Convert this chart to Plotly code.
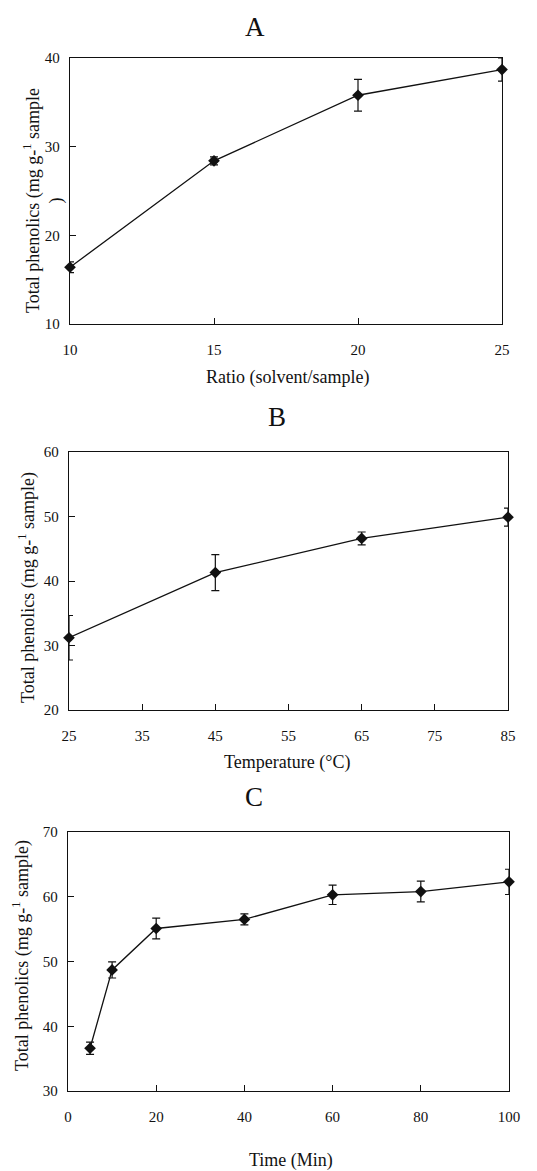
import plotly.graph_objects as go

W, H = 537, 1171
OFF = 8  # page body margin in the browser

# Panel A
ratio = [10, 15, 20, 25]
phen_a = [16.4, 28.4, 35.8, 38.7]
err_a = [0.6, 0.45, 1.8, 1.3]

# Panel B
temp = [25, 45, 65, 85]
phen_b = [31.2, 41.3, 46.6, 49.9]
err_b = [3.45, 2.8, 1.0, 1.4]

# Panel C
time_min = [5, 10, 20, 40, 60, 80, 100]
phen_c = [36.6, 48.7, 55.1, 56.5, 60.3, 60.8, 62.3]
err_c = [0.95, 1.25, 1.6, 0.85, 1.5, 1.6, 1.95]

FONT = "Liberation Serif, Times New Roman, serif"
INK = "#111111"

FW, FH = W - OFF, H - OFF

fig = go.Figure()

def px_x(p):
    return (p - OFF) / FW

def px_y(p):
    return 1 - (p - OFF) / FH

panels = [
    dict(x=ratio, y=phen_a, e=err_a, xa="x", ya="y", xd=(70, 502), yd=(58, 324),
         xr=[10, 25], yr=[10, 40], xt=[10, 15, 20, 25], yt=[10, 20, 30, 40],
         letter="A", lx=255, ly=27,
         xtitle="Ratio (solvent/sample)", xtx=287, xty=377,
         ytitle="Total phenolics (mg g-<sup>1</sup> sample<br>)", ytx=43, yty=201),
    dict(x=temp, y=phen_b, e=err_b, xa="x2", ya="y2", xd=(69, 508), yd=(452, 710),
         xr=[25, 85], yr=[20, 60], xt=[25, 35, 45, 55, 65, 75, 85], yt=[20, 30, 40, 50, 60],
         letter="B", lx=277, ly=417,
         xtitle="Temperature (°C)", xtx=287, xty=762,
         ytitle="Total phenolics (mg g-<sup>1</sup> sample)", ytx=27, yty=588),
    dict(x=time_min, y=phen_c, e=err_c, xa="x3", ya="y3", xd=(68, 509), yd=(832, 1091),
         xr=[0, 100], yr=[30, 70], xt=[0, 20, 40, 60, 80, 100], yt=[30, 40, 50, 60, 70],
         letter="C", lx=254, ly=797,
         xtitle="Time (Min)", xtx=291, xty=1160,
         ytitle="Total phenolics (mg g-<sup>1</sup> sample)", ytx=21, yty=956),
]

annotations = []
for i, p in enumerate(panels):
    fig.add_trace(go.Scatter(
        x=p["x"], y=p["y"], xaxis=p["xa"], yaxis=p["ya"],
        mode="lines+markers",
        line=dict(color=INK, width=1.3),
        marker=dict(symbol="diamond", size=9, color=INK),
        error_y=dict(type="data", array=p["e"], visible=True, color=INK, thickness=1.2, width=4),
        cliponaxis=False, showlegend=False,
    ))
    suffix = "" if i == 0 else str(i + 1)
    common = dict(showline=True, linecolor=INK, linewidth=1.3, mirror=True,
                  ticks="inside", ticklen=6, tickwidth=1.2, tickcolor=INK,
                  showgrid=False, zeroline=False, automargin=False,
                  tickfont=dict(family=FONT, size=15, color=INK))
    fig.layout["xaxis" + suffix] = dict(
        domain=[px_x(p["xd"][0]), px_x(p["xd"][1])], range=p["xr"],
        tickvals=p["xt"], anchor="y" + suffix, ticklabelstandoff=12, **common)
    fig.layout["yaxis" + suffix] = dict(
        domain=[px_y(p["yd"][1]), px_y(p["yd"][0])], range=p["yr"],
        tickvals=p["yt"], anchor="x" + suffix, ticklabelstandoff=6, **common)
    annotations.append(dict(text=p["letter"], x=px_x(p["lx"]), y=px_y(p["ly"]),
                            xref="paper", yref="paper", showarrow=False,
                            xanchor="center", yanchor="middle",
                            font=dict(family=FONT, size=27, color=INK)))
    annotations.append(dict(text=p["xtitle"], x=px_x(p["xtx"]), y=px_y(p["xty"]),
                            xref="paper", yref="paper", showarrow=False,
                            xanchor="center", yanchor="middle",
                            font=dict(family=FONT, size=18, color=INK)))
    annotations.append(dict(text=p["ytitle"], x=px_x(p["ytx"]), y=px_y(p["yty"]),
                            xref="paper", yref="paper", showarrow=False,
                            xanchor="center", yanchor="middle", textangle=-90,
                            align="center",
                            font=dict(family=FONT, size=18, color=INK)))

fig.update_layout(
    width=FW, height=FH,
    margin=dict(l=0, r=0, t=0, b=0),
    paper_bgcolor="white", plot_bgcolor="white",
    annotations=annotations,
)

fig.write_html("out.html")
